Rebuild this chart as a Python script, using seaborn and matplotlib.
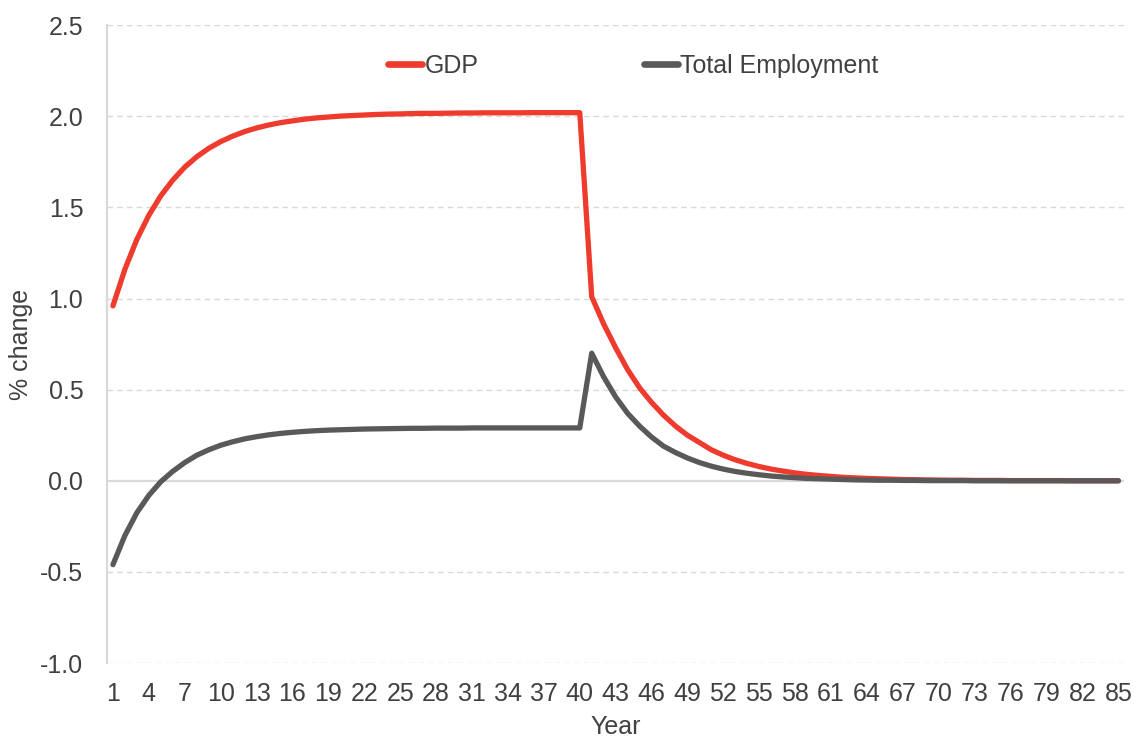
import numpy as np
import pandas as pd
import matplotlib
matplotlib.use("Agg")
import matplotlib.pyplot as plt
import seaborn as sns

years = list(range(1, 86))

gdp = [0.96, 1.161, 1.325, 1.457, 1.564, 1.650, 1.721, 1.778, 1.824, 1.861,
       1.891, 1.916, 1.936, 1.952, 1.965, 1.975, 1.984, 1.991, 1.996, 2.001,
       2.004, 2.007, 2.010, 2.012, 2.013, 2.015, 2.016, 2.016, 2.017, 2.018,
       2.018, 2.019, 2.019, 2.019, 2.019, 2.02, 2.02, 2.02, 2.02, 2.02,
       1.01, 0.86, 0.73, 0.61, 0.51, 0.43, 0.36, 0.30, 0.25, 0.21,
       0.17, 0.14, 0.115, 0.095, 0.078, 0.064, 0.053, 0.043, 0.035, 0.029,
       0.024, 0.019, 0.016, 0.013, 0.011, 0.009, 0.007, 0.006, 0.005, 0.004,
       0.003, 0.003, 0.002, 0.002, 0.002, 0.001, 0.001, 0.001, 0.001, 0.001,
       0.0, 0.0, 0.0, 0.0, 0.0]

employment = [-0.46, -0.30, -0.175, -0.08, -0.005, 0.052, 0.10, 0.14, 0.17, 0.195,
              0.214, 0.23, 0.242, 0.252, 0.26, 0.266, 0.271, 0.275, 0.278, 0.28,
              0.282, 0.284, 0.285, 0.286, 0.287, 0.288, 0.288, 0.289, 0.289, 0.289,
              0.29, 0.29, 0.29, 0.29, 0.29, 0.29, 0.29, 0.29, 0.29, 0.29,
              0.70, 0.57, 0.46, 0.37, 0.30, 0.24, 0.19, 0.155, 0.125, 0.10,
              0.08, 0.064, 0.051, 0.041, 0.033, 0.026, 0.021, 0.017, 0.013, 0.011,
              0.009, 0.007, 0.005, 0.004, 0.003, 0.003, 0.002, 0.002, 0.001, 0.001,
              0.001, 0.001, 0.0, 0.0, 0.0, 0.0, 0.0, 0.0, 0.0, 0.0,
              0.0, 0.0, 0.0, 0.0, 0.0]

series_names = ["GDP", "Total Employment"]
colors = ["#EE3B2D", "#595959"]

df = pd.DataFrame({
    "Year": years * 2,
    "value": gdp + employment,
    "series": [series_names[0]] * len(years) + [series_names[1]] * len(years),
})

sns.set_theme(style="white")
plt.rcParams["font.family"] = ["Liberation Sans", "DejaVu Sans"]
txt = "#404040"
fs = 18

fig = plt.figure(figsize=(11.38, 7.4), dpi=100)
ax = fig.add_axes([0.094, 0.104, 0.894, 0.862])

sns.lineplot(data=df, x="Year", y="value", hue="series",
             palette=dict(zip(series_names, colors)), linewidth=3.8,
             ax=ax, legend=True, solid_capstyle="round", solid_joinstyle="round")

ax.set_xlim(0.5, 85.5)
ax.set_ylim(-1.0, 2.5)
yt = np.arange(-1.0, 2.51, 0.5)
ax.set_yticks(yt)
ax.set_yticklabels([f"{v:.1f}" for v in yt])
ax.set_xticks(list(range(1, 86, 3)))
ax.set_xticklabels([str(v) for v in range(1, 86, 3)])

for y in yt:
    if abs(y) > 1e-9:
        ax.axhline(y, color="#d9d9d9", lw=1.0, ls=(0, (4, 3)), zorder=0)
ax.axhline(0, color="#d9d9d9", lw=1.6, zorder=0.5)

for s in ["top", "right", "bottom"]:
    ax.spines[s].set_visible(False)
ax.spines["left"].set_color("#d9d9d9")
ax.spines["left"].set_linewidth(1.6)

ax.tick_params(axis="both", length=0, labelsize=fs, colors=txt)
ax.tick_params(axis="x", pad=14)
ax.tick_params(axis="y", pad=17)
ax.set_xlabel("Year", fontsize=fs, color=txt, labelpad=6)
ax.set_ylabel("% change", fontsize=fs, color=txt, labelpad=5)

ax.legend_.remove()
handles, labels = ax.get_legend_handles_labels()
leg = fig.legend(handles, labels, loc="center left",
                 bbox_to_anchor=(388 / 1138, 1 - 66 / 740), ncol=2,
                 frameon=False, fontsize=fs, handlelength=1.35, handletextpad=0.12,
                 columnspacing=6.6, borderpad=0, borderaxespad=0)
for t in leg.get_texts():
    t.set_color(txt)
for h in leg.get_lines():
    h.set_linewidth(4.8)
    h.set_solid_capstyle("round")

fig.savefig("out.png", dpi=100)
